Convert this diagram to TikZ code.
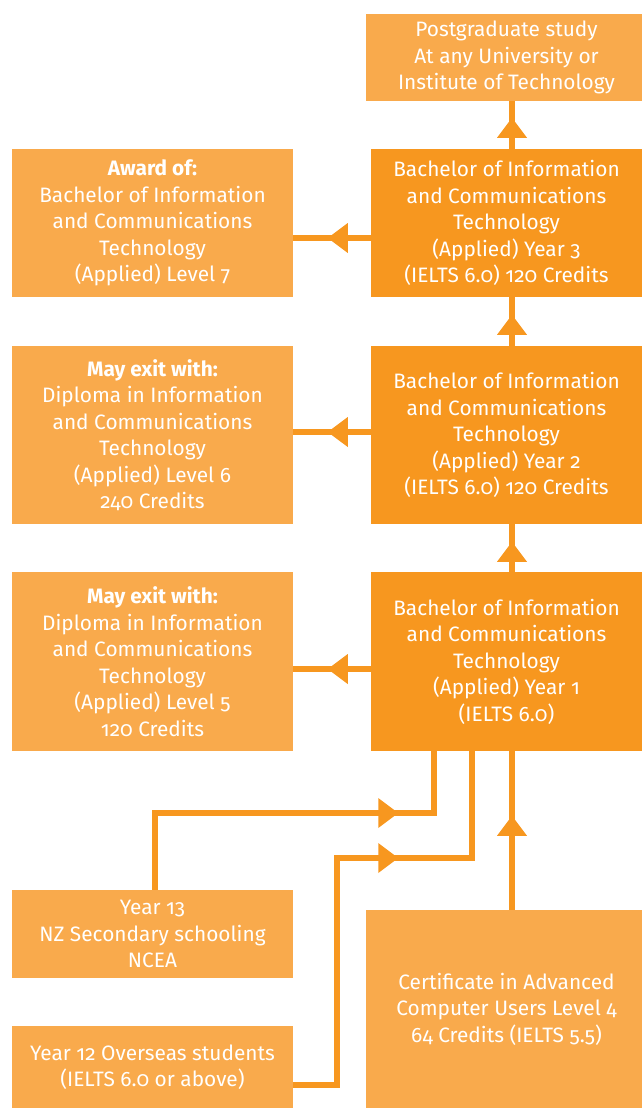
\documentclass[tikz,border=0pt]{standalone}
\usepackage{fontspec}
\setmainfont{Fira Sans}[Numbers=OldStyle]
\usepackage{xcolor}
\usetikzlibrary{arrows.meta,decorations.markings}

\definecolor{darkorange}{HTML}{F7971F}
\definecolor{lightorange}{HTML}{F9AA4C}

\tikzset{
  course/.style={fill=darkorange, text=white, align=center, inner sep=0pt,
    minimum width=8.13cm, font=\fontsize{17.8}{22.6}\selectfont},
  exitbox/.style={fill=lightorange, text=white, align=center, inner sep=0pt,
    minimum width=8.43cm, font=\fontsize{17.8}{22.6}\selectfont},
  link/.style={draw=darkorange, line width=4.3pt},
  tipat/.style={postaction={decorate}, decoration={markings,
    mark=at position #1 with {\arrow{Triangle[length=0.6cm,width=0.9cm,line width=0pt]}}}}
}

\begin{document}
\begin{tikzpicture}[x=0.03cm, y=-0.03cm]
    \useasboundingbox (0,0) rectangle (642,1109);

    % Right column: the degree, year by year
    \node[exitbox, minimum height=2.61cm] (post) at (506.5,57.5)
        {Postgraduate study\\At any University or\\Institute of Technology};
    \node[course, minimum height=4.44cm] (y3) at (506.5,223)
        {Bachelor of Information\\and Communications\\Technology\\(Applied) Year 3\\(IELTS 6.0) 120 Credits};
    \node[course, minimum height=5.34cm] (y2) at (506.5,435)
        {Bachelor of Information\\and Communications\\Technology\\(Applied) Year 2\\(IELTS 6.0) 120 Credits};
    \node[course, minimum height=5.37cm] (y1) at (506.5,661.5)
        {Bachelor of Information\\and Communications\\Technology\\(Applied) Year 1\\(IELTS 6.0)};
    \node[exitbox, minimum height=5.94cm] (cert) at (506.5,1009)
        {Certificate in Advanced\\Computer Users Level 4\\64 Credits (IELTS 5.5)};

    % Left column: exits and entry
    \node[exitbox, minimum height=4.44cm] (award) at (152.5,223)
        {\textbf{Award of:}\\Bachelor of Information\\and Communications\\Technology\\(Applied) Level 7};
    \node[exitbox, minimum height=5.34cm] (lvsix) at (152.5,435)
        {\textbf{May exit with:}\\Diploma in Information\\and Communications\\Technology\\(Applied) Level 6\\240 Credits};
    \node[exitbox, minimum height=5.37cm] (lvfive) at (152.5,661.5)
        {\textbf{May exit with:}\\Diploma in Information\\and Communications\\Technology\\(Applied) Level 5\\120 Credits};
    \node[exitbox, minimum height=2.64cm] (yrthirteen) at (152.5,934)
        {Year 13\\NZ Secondary schooling\\NCEA};
    \node[exitbox, minimum height=2.46cm] (yrtwelve) at (152.5,1067)
        {Year 12 Overseas students\\(IELTS 6.0 or above)};

    % Upward links
    \draw[link, tipat=0.93cm] ([xshift=0.165cm]y3.north) -- ([xshift=0.165cm]post.south);
    \draw[link, tipat=0.93cm] ([xshift=0.165cm]y2.north) -- ([xshift=0.165cm]y3.south);
    \draw[link, tipat=0.9cm] ([xshift=0.165cm]y1.north) -- ([xshift=0.165cm]y2.south);
    \draw[link, tipat=2.82cm] ([xshift=0.165cm]cert.north) -- ([xshift=0.165cm]y1.south);

    % Exit links
    \draw[link, tipat=1.29cm] ([yshift=-0.45cm]y3.west) -- ([yshift=-0.45cm]y3.west -| award.east);
    \draw[link, tipat=1.29cm] ([yshift=0.09cm]y2.west) -- ([yshift=0.09cm]y2.west -| lvsix.east);
    \draw[link, tipat=1.29cm] ([yshift=-0.225cm]y1.west) -- ([yshift=-0.225cm]y1.west -| lvfive.east);

    % Entry links
    \coordinate (jthirteen) at (434,813);
    \coordinate (jtwelve) at (472,858);
    \draw[link, tipat=9.6cm] ([xshift=0.075cm]yrthirteen.north) |- (jthirteen) -- (jthirteen |- y1.south);
    \draw[link, tipat=9.96cm] ([yshift=-0.54cm]yrtwelve.east) -| (337,858) -- (jtwelve) -- (jtwelve |- y1.south);
\end{tikzpicture}
\end{document}
